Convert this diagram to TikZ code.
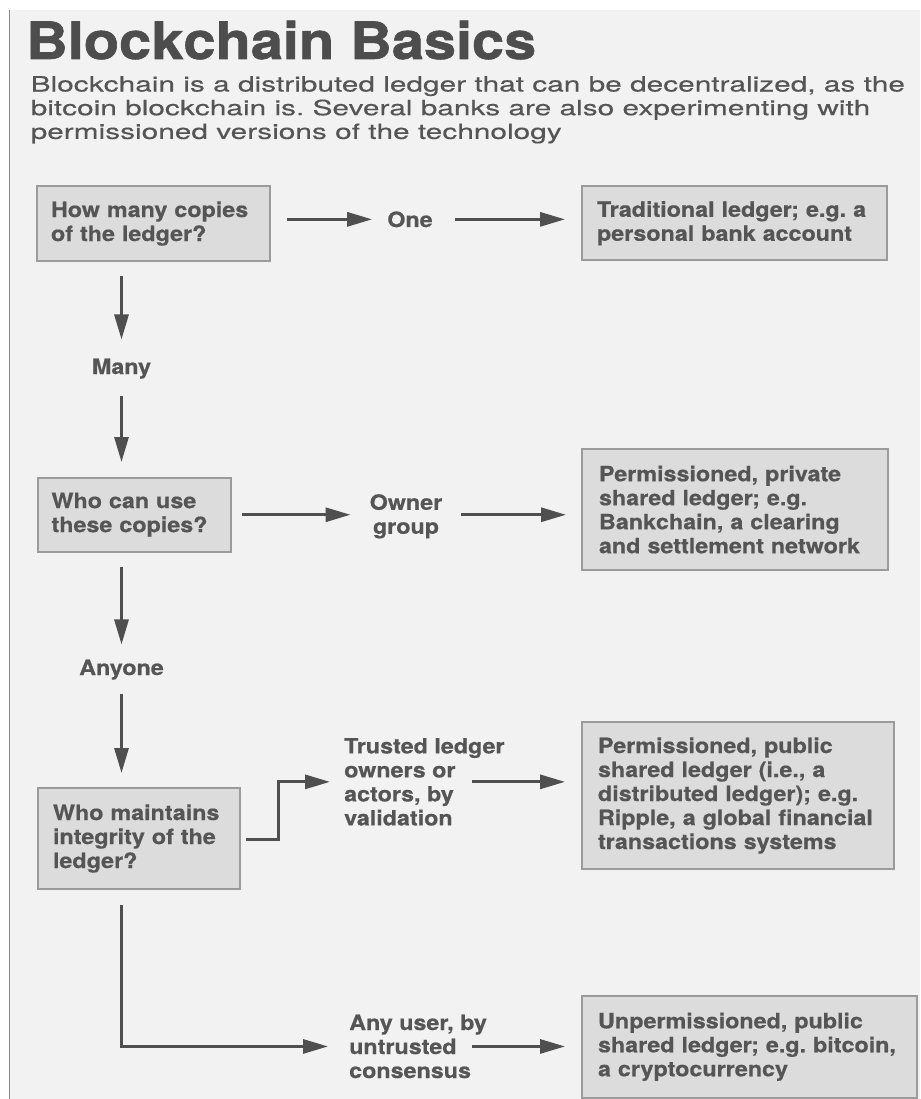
\documentclass[tikz,border=0pt]{standalone}
\usepackage{fontspec}
\setmainfont{TeX Gyre Heros}
\newfontfamily\titlefont[FakeStretch=1.12,FakeBold=1.2]{TeX Gyre Heros}
\newfontfamily\subfont[FakeStretch=1.42,FakeBold=0.3]{TeX Gyre Heros}
\newfontfamily\boxfont[FakeStretch=1.11,FakeBold=0.6]{TeX Gyre Heros}
\usetikzlibrary{arrows.meta}
\definecolor{bgc}{HTML}{F2F2F2}
\definecolor{boxfill}{HTML}{DCDCDC}
\definecolor{boxline}{HTML}{9B9B9B}
\definecolor{txt}{HTML}{555555}
\definecolor{titlec}{HTML}{4D4D4D}
\definecolor{arrc}{HTML}{4F4F4F}
\definecolor{edgec}{HTML}{8A8A8A}
\frenchspacing
\begin{document}
\begin{tikzpicture}[x=1pt,y=-1pt,
  box/.style={draw=boxline, fill=boxfill, line width=2pt, align=left, anchor=north west,
    inner ysep=0pt, text=txt, font={\boxfont\bfseries\fontsize{21}{24}\selectfont\frenchspacing}},
  lbl/.style={inner sep=0pt, text=txt, font={\boxfont\bfseries\fontsize{21}{24}\selectfont\frenchspacing}},
  arr/.style={draw=arrc, line width=3pt, -{Triangle[length=25pt,width=14pt]}},
]
\useasboundingbox (0,0) rectangle (920,1099);
\fill[white] (0,0) rectangle (920,1099);
\fill[bgc] (9,10) rectangle (920,1099);
\draw[edgec, line width=1.2pt] (9.5,10) -- (9.5,1099);

% title and subtitle
\node[anchor=base west, inner sep=0pt, text=titlec,
  font={\titlefont\bfseries\fontsize{51.5}{55}\selectfont}] (title) at (26,59) {Blockchain Basics};
\node[anchor=north west, inner sep=0pt, align=left, text=txt,
  font={\subfont\fontsize{21}{23.7}\selectfont\frenchspacing}] (sub) at (30.5,76)
  {Blockchain is a distributed ledger that can be decentralized, as the\\
   bitcoin blockchain is. Several banks are also experimenting with\\
   permissioned versions of the technology};

% boxes
\node[box, minimum width=233pt, minimum height=74pt, inner xsep=14pt, text width=205pt]
  (q1) at (36,185.5) {How many copies\\of the ledger?};
\node[box, minimum width=305pt, minimum height=73.5pt, inner xsep=15pt, text width=275pt]
  (r1) at (581,185.5) {Traditional ledger; e.g. a\\personal bank account};
\node[box, minimum width=193.5pt, minimum height=73.5pt, inner xsep=14pt, text width=165.5pt]
  (q2) at (36.5,477) {Who can use\\these copies?};
\node[box, minimum width=306pt, minimum height=121pt, inner xsep=17pt, text width=272pt]
  (r2) at (581,448) {Permissioned, private\\shared ledger; e.g.\\Bankchain, a clearing\\and settlement network};
\node[box, minimum width=202pt, minimum height=101pt, inner xsep=15pt, text width=172pt]
  (q3) at (37,787) {Who maintains\\integrity of the\\ledger?};
\node[box, minimum width=312pt, minimum height=147pt, inner xsep=16pt, text width=280pt]
  (r3) at (581,721) {Permissioned, public\\shared ledger (i.e., a\\distributed ledger); e.g.\\Ripple, a global financial\\transactions systems};
\node[box, minimum width=335pt, minimum height=102.5pt, inner xsep=16pt, text width=303pt]
  (r4) at (581,994.5) {Unpermissioned, public\\shared ledger; e.g. bitcoin,\\a cryptocurrency};

% labels
\node[lbl, anchor=base] (one) at (410,227) {One};
\node[lbl, anchor=base] (many) at (121.5,374) {Many};
\node[lbl, anchor=north, align=center] (owner) at (406,494) {Owner\\group};
\node[lbl, anchor=base] (anyone) at (121.5,675) {Anyone};
\node[lbl, anchor=north west, align=left] (trusted) at (344,737.9)
  {Trusted ledger\\owners or\\actors, by\\validation};
\node[lbl, anchor=north west, align=left] (anyuser) at (349,1014.5)
  {Any user, by\\untrusted\\consensus};

% connectors
\draw[arr, shorten <=16pt, shorten >=15pt] (q1.east |- one.west) -- (one.west);
\draw[arr, shorten <=22pt, shorten >=16pt] (one.east) -- (one.east -| r1.west);
\draw[arr, shorten <=14pt, shorten >=19pt] (many.north |- q1.south) -- (many.north);
\draw[arr, shorten <=17pt, shorten >=15pt] (many.south) -- (many.south |- q2.north);
\draw[arr, shorten <=10pt, shorten >=19pt] (q2.east) -- (q2.east -| owner.west);
\draw[arr, shorten <=19pt, shorten >=15pt] (q2.east -| owner.east) -- (q2.east -| r2.west);
\draw[arr, shorten <=14pt, shorten >=15pt] (anyone.north |- q2.south) -- (anyone.north);
\draw[arr, shorten <=14pt, shorten >=14pt] (anyone.south) -- (anyone.south |- q3.north);
\coordinate (bend1) at (278,839);
\draw[arr, shorten <=5pt, shorten >=14pt] (q3.east |- bend1) -- (bend1) |- (trusted.west);
\path (trusted.west) ++(128,0) coordinate (tout);
\draw[arr, shorten >=16pt] (tout) -- (tout -| r3.west);
\draw[arr, shorten <=15pt, shorten >=21pt] (anyone.south |- q3.south) |- (anyuser.west);
\path (anyuser.west) ++(123,0) coordinate (uout);
\draw[arr, shorten >=16pt] (uout) -- (uout -| r4.west);
\end{tikzpicture}
\end{document}
